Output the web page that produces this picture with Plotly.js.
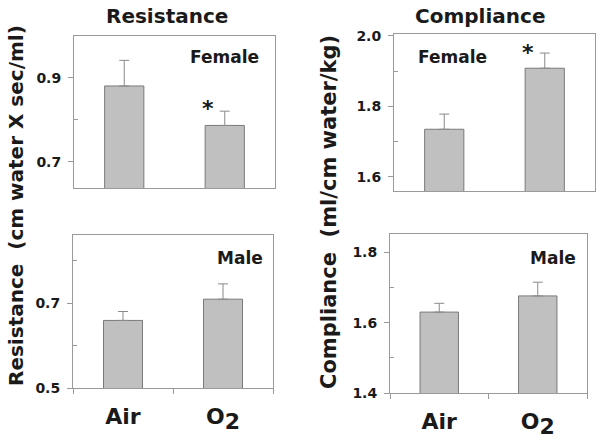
<!DOCTYPE html>
<html>
<head>
<meta charset="utf-8">
<script src="https://cdn.plot.ly/plotly-3.0.1.min.js"></script>
<style>html,body{margin:0;padding:0;background:#fff;}#chart{width:601px;height:445px;}</style>
</head>
<body>
<div id="chart"></div>
<script>
const categories = ['Air', 'O2'];
const tickLabels = ['Air', 'O<sub><span style="font-size:22px">2</span></sub>'];

const resFemale = [0.881, 0.787];
const resFemaleErr = [0.061, 0.034];
const resMale = [0.659, 0.709];
const resMaleErr = [0.021, 0.036];
const compFemale = [1.735, 1.908];
const compFemaleErr = [0.043, 0.043];
const compMale = [1.630, 1.676];
const compMaleErr = [0.025, 0.039];

const panelTitles = ['Resistance', 'Compliance'];
const yTitles = ['Resistance  (cm water X sec/ml)', 'Compliance  (ml/cm water/kg)'];
const sexLabels = ['Female', 'Male'];
const sigMark = '*';

const FONT = 'DejaVu Sans';
const barFill = '#c0c0c0';
const barLine = '#7a7a7a';
const axisCol = '#9a9a9a';

function barTrace(vals, errs, xa, ya) {
  return {
    type: 'bar', x: categories, y: vals, xaxis: xa, yaxis: ya, width: 0.39,
    marker: {color: barFill, line: {color: barLine, width: 1}},
    error_y: {type: 'data', symmetric: false, array: errs, arrayminus: errs.map(() => 0),
              color: '#8a8a8a', thickness: 1, width: 5},
    showlegend: false, hoverinfo: 'skip'
  };
}

const data = [
  barTrace(resFemale, resFemaleErr, 'x', 'y'),
  barTrace(compFemale, compFemaleErr, 'x2', 'y2'),
  barTrace(resMale, resMaleErr, 'x3', 'y3'),
  barTrace(compMale, compMaleErr, 'x4', 'y4')
];

const W = 601, H = 445;
const px = (a, b) => [a / W, b / W];
const py = (top, bottom) => [1 - bottom / H, 1 - top / H];

function yAxis(domain, range, tickvals, minorvals, anchor) {
  return {
    domain: domain, range: range, anchor: anchor,
    tickmode: 'array', tickvals: tickvals, ticktext: tickvals.map(v => v.toFixed(1)),
    ticks: 'outside', ticklen: 5, tickcolor: axisCol, tickwidth: 1,
    minor: {tickmode: 'array', tickvals: minorvals, ticks: 'inside', ticklen: 4, tickcolor: axisCol, tickwidth: 1, showgrid: false},
    showline: true, mirror: true, linecolor: axisCol, linewidth: 1,
    showgrid: false, zeroline: false,
    tickfont: {family: FONT, size: 14, color: '#1a1a1a', weight: 'bold'},
    ticklabelstandoff: 4, fixedrange: true
  };
}
function xAxis(domain, anchor, bottom) {
  const ax = {
    domain: domain, anchor: anchor, type: 'category', range: [-0.5, 1.5],
    categoryorder: 'array', categoryarray: categories,
    showline: true, mirror: true, linecolor: axisCol, linewidth: 1,
    showgrid: false, zeroline: false, fixedrange: true
  };
  if (bottom) {
    Object.assign(ax, {
      ticks: 'outside', tickson: 'boundaries', ticklen: 5, tickcolor: axisCol, tickwidth: 1,
      tickmode: 'array', tickvals: categories, ticktext: tickLabels,
      tickfont: {family: FONT, size: 22, color: '#1a1a1a', weight: 'bold'},
      ticklabelstandoff: 9
    });
  } else {
    Object.assign(ax, {ticks: '', showticklabels: false});
  }
  return ax;
}

const ann = [];
const txt = (text, x, y, size, extra) => Object.assign({
  text: text, xref: 'paper', yref: 'paper', x: x / W, y: 1 - y / H,
  xanchor: 'center', yanchor: 'middle', showarrow: false,
  font: {family: FONT, size: size, color: '#1a1a1a', weight: 'bold'}
}, extra || {});

ann.push(txt(panelTitles[0], 167, 16, 20));
ann.push(txt(panelTitles[1], 480, 16, 20));
ann.push(txt(yTitles[0], 16, 206, 20, {textangle: -90}));
ann.push(txt(yTitles[1], 329, 212, 21, {textangle: -90}));
ann.push(txt(sexLabels[0], 224, 57, 17));
ann.push(txt(sexLabels[0], 452, 57, 17));
ann.push(txt(sexLabels[1], 240, 258, 17));
ann.push(txt(sexLabels[1], 553, 258, 17));
ann.push({text: sigMark, xref: 'x', yref: 'y', x: categories[1], y: resFemale[1] + resFemaleErr[1],
  xanchor: 'center', yanchor: 'bottom', xshift: -17, yshift: -12, showarrow: false,
  font: {family: FONT, size: 22, color: '#1a1a1a', weight: 'bold'}});
ann.push({text: sigMark, xref: 'x2', yref: 'y2', x: categories[1], y: compFemale[1] + compFemaleErr[1],
  xanchor: 'center', yanchor: 'bottom', xshift: -17, yshift: -14, showarrow: false,
  font: {family: FONT, size: 22, color: '#1a1a1a', weight: 'bold'}});

const layout = {
  width: W, height: H,
  margin: {l: 0, r: 0, t: 0, b: 0},
  paper_bgcolor: '#fff', plot_bgcolor: '#fff',
  showlegend: false, bargap: 0.6,
  xaxis: xAxis(px(74, 275), 'y', false),
  yaxis: yAxis(py(36, 188), [0.638, 1.0], [0.7, 0.9], [0.8], 'x'),
  xaxis2: xAxis(px(394, 595), 'y2', false),
  yaxis2: yAxis(py(34, 191), [1.56, 2.005], [1.6, 1.8, 2.0], [1.7, 1.9], 'x2'),
  xaxis3: xAxis(px(73, 273), 'y3', true),
  yaxis3: yAxis(py(235, 388), [0.5, 0.86], [0.5, 0.7], [0.6, 0.8], 'x3'),
  xaxis4: xAxis(px(390, 587), 'y4', true),
  yaxis4: yAxis(py(234, 393), [1.4, 1.852], [1.4, 1.6, 1.8], [1.5, 1.7], 'x4'),
  annotations: ann
};

Plotly.newPlot('chart', data, layout, {staticPlot: true, displayModeBar: false});
</script>
</body>
</html>
